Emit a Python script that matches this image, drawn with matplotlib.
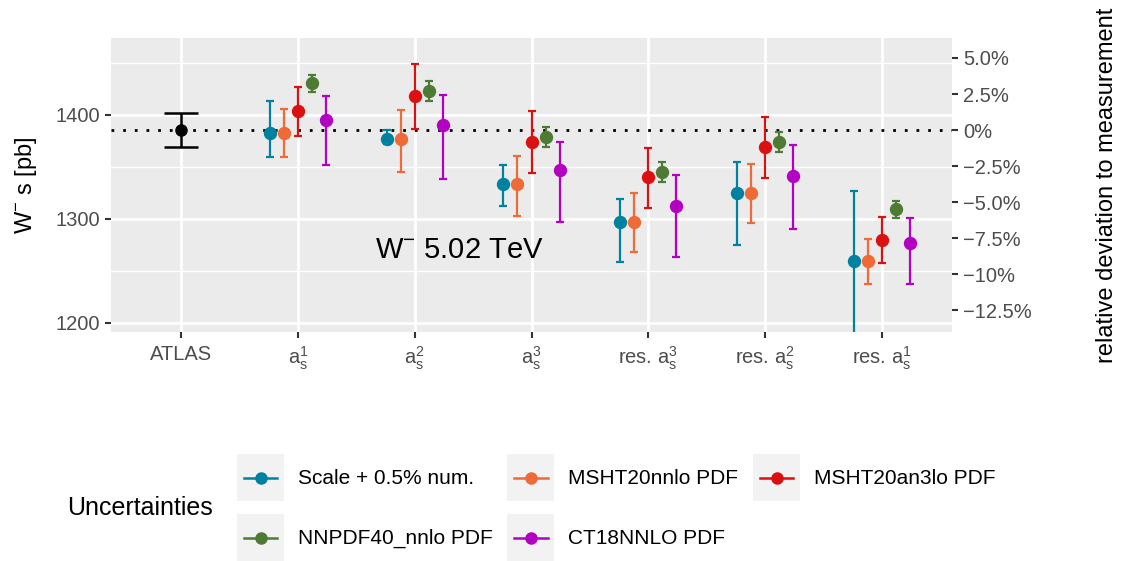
import matplotlib
matplotlib.use("Agg")
import matplotlib.pyplot as plt
from matplotlib.legend_handler import HandlerBase
from matplotlib.lines import Line2D
from matplotlib.patches import Rectangle

plt.rcParams['font.family'] = ['Liberation Sans', 'DejaVu Sans']
plt.rcParams['mathtext.fontset'] = 'custom'
plt.rcParams['mathtext.rm'] = 'Liberation Sans'
plt.rcParams['mathtext.it'] = 'Liberation Sans:italic'

# data
categories = ['ATLAS', r'$\mathregular{a_s^1}$', r'$\mathregular{a_s^2}$', r'$\mathregular{a_s^3}$',
              r'res. $\mathregular{a_s^3}$', r'res. $\mathregular{a_s^2}$', r'res. $\mathregular{a_s^1}$']
atlas_val = 1385.5
atlas_err = 16.2

series = ['Scale + 0.5% num.', 'MSHT20nnlo PDF', 'MSHT20an3lo PDF', 'NNPDF40_nnlo PDF', 'CT18NNLO PDF']
colors = ['#00819F', '#EE6A36', '#DB1010', '#4E7B33', '#B300C3']

scale_c = [1383, 1376.6, 1333.4, 1297, 1325, 1259.3]
scale_hi = [1413.5, 1385.5, 1352, 1318.9, 1355.1, 1326.6]
scale_lo = [1359.3, 1372, 1312.5, 1258.3, 1275.3, 1185]

msht_c = [1383, 1376.6, 1333.4, 1297, 1325, 1259.3]
msht_hi = [1405.5, 1404.5, 1360.6, 1324.7, 1353.2, 1281]
msht_lo = [1359.3, 1345, 1303.2, 1268.6, 1295.8, 1237.8]

an3lo_c = [1404, 1418, 1373.7, 1340.4, 1368.9, 1280]
an3lo_hi = [1427, 1448.7, 1403.8, 1368.6, 1398, 1301.6]
an3lo_lo = [1380, 1386.9, 1343.9, 1310.9, 1339.1, 1257.4]

nnpdf_c = [1430.4, 1423, 1378.8, 1345.2, 1374, 1309.3]
nnpdf_hi = [1438.5, 1432.7, 1388.1, 1354.8, 1383.3, 1317.6]
nnpdf_lo = [1422, 1413.8, 1369.5, 1335.6, 1364.4, 1301]

ct18_c = [1395, 1390.4, 1347, 1312.8, 1341.3, 1276.9]
ct18_hi = [1418, 1419.2, 1374.4, 1342, 1370.8, 1300.7]
ct18_lo = [1352, 1338, 1297.4, 1263.2, 1290.4, 1237.8]

centrals = [scale_c, msht_c, an3lo_c, nnpdf_c, ct18_c]
highs = [scale_hi, msht_hi, an3lo_hi, nnpdf_hi, ct18_hi]
lows = [scale_lo, msht_lo, an3lo_lo, nnpdf_lo, ct18_lo]
offsets = [-0.24, -0.12, 0.0, 0.12, 0.24]

pct_ticks = [5.0, 2.5, 0, -2.5, -5.0, -7.5, -10, -12.5]
pct_labels = ['5.0%', '2.5%', '0%', '\u22122.5%', '\u22125.0%', '\u22127.5%', '\u221210%', '\u221212.5%']

fig = plt.figure(figsize=(11.23, 5.61), dpi=100)
ax = fig.add_axes([111 / 1123, 1 - 332 / 561, (952 - 111) / 1123, (332 - 38) / 561])
ax.set_facecolor('#EBEBEB')
for s in ax.spines.values():
    s.set_visible(False)

ax.set_xlim(0.4, 7.6)
ax.set_ylim(1191.3, 1474)
ax.set_yticks([1200, 1300, 1400])
ax.set_yticks([1250, 1350, 1450], minor=True)
ax.set_xticks(range(1, 8))
ax.set_xticklabels(categories)
ax.grid(which='major', color='white', linewidth=2)
ax.grid(which='minor', axis='y', color='white', linewidth=1)
ax.set_axisbelow(True)
ax.tick_params(axis='both', which='major', labelsize=14.5, labelcolor='#4D4D4D', color='#333333',
               length=4, width=1.5, pad=4)
ax.tick_params(axis='x', pad=5)
ax.tick_params(axis='y', which='minor', length=0)

ax.axhline(atlas_val, color='black', linewidth=2, linestyle=(0, (1, 3.2)), zorder=1.5)

ax.errorbar([1], [atlas_val], yerr=[atlas_err], fmt='o', color='black', markersize=8,
            elinewidth=1.8, capsize=12.5, capthick=1.8, zorder=3)

for i in range(len(series)):
    xs = [c + 2 + offsets[i] for c in range(6)]
    lo = [centrals[i][k] - lows[i][k] for k in range(6)]
    hi = [highs[i][k] - centrals[i][k] for k in range(6)]
    ax.errorbar(xs, centrals[i], yerr=[lo, hi], fmt='o', color=colors[i], markersize=8.6,
                elinewidth=1.6, capsize=2.6, capthick=1.6, zorder=3)

ax.text(3.38, 1270, r'W$^{-}$ 5.02 TeV', fontsize=21, ha='center', va='center')
ax.set_ylabel(r'W$^{-}$ s [pb]', fontsize=17, labelpad=12)

sec = ax.secondary_yaxis('right', functions=(lambda y: (y / atlas_val - 1) * 100,
                                             lambda p: (p / 100 + 1) * atlas_val))
sec.set_yticks(pct_ticks)
sec.set_yticklabels(pct_labels)
sec.spines['right'].set_visible(False)
sec.tick_params(labelsize=14.5, labelcolor='#4D4D4D', color='#333333', length=4, width=1.5, pad=4)
sec.set_ylabel('relative deviation to measurement', fontsize=17, labelpad=46)


class KeyBox(HandlerBase):
    # grey key square with a centred line and point, like ggplot
    def create_artists(self, legend, orig_handle, xdescent, ydescent, width, height, fontsize, trans):
        x0 = -xdescent
        yc = height / 2 - ydescent
        box = Rectangle((x0, -ydescent), width, height, facecolor='#F2F2F2',
                        edgecolor='none', transform=trans)
        line = Line2D([x0 + 5, x0 + width / 2, x0 + width - 5], [yc, yc, yc],
                      color=orig_handle.get_color(), linewidth=orig_handle.get_linewidth(),
                      marker='o', markersize=orig_handle.get_markersize(), markevery=[1],
                      transform=trans)
        return [box, line]


# legend fills row by row like ggplot
handles = [Line2D([], [], color=c, marker='o', markersize=8, linewidth=1.8) for c in colors]
order = [0, 3, 1, 4, 2]
fig.legend([handles[k] for k in order], [series[k] for k in order], loc='upper left',
           bbox_to_anchor=(237 / 1123, 1 - 454 / 561),
           ncol=3, frameon=False, fontsize=15, borderpad=0, borderaxespad=0,
           handlelength=2.26, handleheight=3.1, labelspacing=0.62, handletextpad=0.67,
           columnspacing=0.7, handler_map={Line2D: KeyBox()})
fig.text(67 / 1123, 1 - 508 / 561, 'Uncertainties', fontsize=18, ha='left', va='center')

fig.savefig('out.png', dpi=100)
